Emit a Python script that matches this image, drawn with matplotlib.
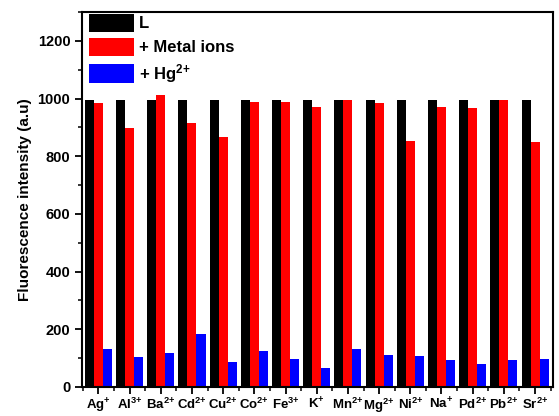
import numpy as np
import matplotlib
matplotlib.use('Agg')
import matplotlib.pyplot as plt
from matplotlib.ticker import MultipleLocator

plt.rcParams['font.family'] = ['Liberation Sans', 'DejaVu Sans']
plt.rcParams['font.weight'] = 'bold'
plt.rcParams['mathtext.fontset'] = 'custom'
plt.rcParams['mathtext.rm'] = 'Liberation Sans:bold'
plt.rcParams['mathtext.bf'] = 'Liberation Sans:bold'
plt.rcParams['mathtext.default'] = 'bf'

ions = ["Ag$^{{+}}$", "Al$^{3{+}}$", "Ba$^{2{+}}$", "Cd$^{2{+}}$", "Cu$^{2{+}}$",
        "Co$^{2{+}}$", "Fe$^{3{+}}$", "K$^{{+}}$", "Mn$^{2{+}}$", "Mg$^{2{+}}$",
        "Ni$^{2{+}}$", "Na$^{{+}}$", "Pd$^{2{+}}$", "Pb$^{2{+}}$", "Sr$^{2{+}}$"]
ligand = [994] * 15
metal = [985, 898, 1011, 914, 866, 988, 987, 970, 994, 985, 853, 972, 966, 994, 851]
mercury = [133, 103, 116, 185, 87, 124, 98, 64, 130, 109, 106, 93, 80, 93, 97]

fig = plt.figure(figsize=(5.59, 4.16), dpi=100)
ax = fig.add_axes([0.147, 0.07, 0.842, 0.901])

x = np.arange(len(ions))
w = 0.29
ax.bar(x - w, ligand, w, color='black', label='L')
ax.bar(x, metal, w, color='#ff0000', label='+ Metal ions')
ax.bar(x + w, mercury, w, color='#0000ff', label='+ Hg$^{2{+}}$')

ax.set_xlim(-0.52, 14.57)
ax.set_ylim(0, 1300)
ax.set_xticks(x)
ax.set_xticklabels(ions, fontsize=9.5)
ax.xaxis.set_minor_locator(MultipleLocator(0.5))
ax.yaxis.set_major_locator(MultipleLocator(200))
ax.yaxis.set_minor_locator(MultipleLocator(100))
ax.tick_params(axis='y', labelsize=10.5, width=1.3, length=5)
ax.tick_params(axis='x', width=1.3, length=5, pad=2)
ax.tick_params(which='minor', width=1.1, length=3)
for s in ax.spines.values():
    s.set_linewidth(1.5)

ax.set_ylabel("Fluorescence intensity (a.u)", fontsize=11, fontweight='bold')

ax.legend(loc='upper left', fontsize=12, frameon=False, handlelength=2.7,
          handleheight=1.3, labelspacing=0.35, handletextpad=0.3,
          borderaxespad=0.0, borderpad=0.1, bbox_to_anchor=(0.01, 1.0))

fig.savefig("out.png", dpi=100)
